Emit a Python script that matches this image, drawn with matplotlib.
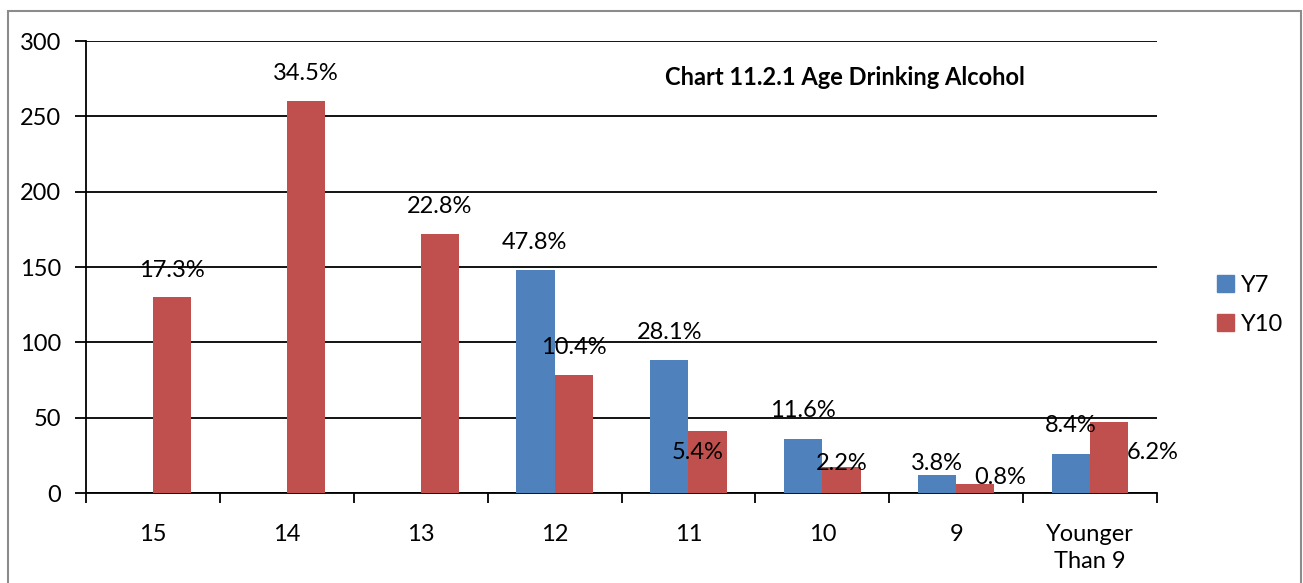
import numpy as np
import matplotlib as mpl

mpl.use('agg')

import matplotlib.pyplot as plt
from matplotlib.patches import Rectangle, Patch

plt.rcParams['font.family'] = ['Lato', 'DejaVu Sans']

# age first drank alcohol, counts per year group
ages = ['15', '14', '13', '12', '11', '10', '9', 'Younger\nThan 9']
y7 = [0, 0, 0, 148, 88, 36, 12, 26]
y10 = [130, 260, 172, 78, 41, 17, 6, 47]
y7_pct = [None, None, None, '47.8%', '28.1%', '11.6%', '3.8%', '8.4%']
y10_pct = ['17.3%', '34.5%', '22.8%', '10.4%', '5.4%', '2.2%', '0.8%', '6.2%']

# label nudges (pixels: dx, dy from bar top centre)
y7_nudge = [None, None, None, (-1, 28), (0, 28), (0, 28), (0, 11), (0, 28)]
y10_nudge = [(0, 27), (0, 28), (0, 27), (0, 28), (-10, -21), (0, 4), (25, 6), (44, -30)]

blue = '#4F81BD'
red = '#C0504D'
fs = 17

fig = plt.figure(figsize=(13.03, 5.83), dpi=100)
ax = fig.add_axes([86 / 1303, 90 / 583, 1071 / 1303, 452 / 583])

x = np.arange(len(ages))
w = 1 / 3.5
b7 = ax.bar(x - w / 2, y7, w, color=blue, zorder=3)
b10 = ax.bar(x + w / 2, y10, w, color=red, zorder=3)

ax.set_xlim(-0.5, len(ages) - 0.5)
ax.set_ylim(0, 300)
ax.set_yticks(range(0, 301, 50))
ax.yaxis.grid(True, color='black', lw=1.3, zorder=1)
ax.set_axisbelow(True)

ax.set_xticks(x)
ax.set_xticklabels(ages, fontsize=fs, linespacing=1.4)
ax.set_xticks(np.arange(len(ages) + 1) - 0.5, minor=True)
ax.tick_params(axis='x', which='major', length=0, pad=22)
ax.tick_params(axis='x', which='minor', length=7, width=1.3, direction='out')
ax.tick_params(axis='y', length=8, width=1.3, labelsize=fs, pad=10)

for s in ['top', 'right']:
    ax.spines[s].set_visible(False)
for s in ['left', 'bottom']:
    ax.spines[s].set_linewidth(1.3)

px = 72 / fig.dpi


def label(bars, texts, nudges):
    for bar, t, n in zip(bars, texts, nudges):
        if t is None:
            continue
        cx = bar.get_x() + bar.get_width() / 2
        ax.annotate(t, (cx, bar.get_height()), xytext=(n[0] * px, n[1] * px),
                    textcoords='offset points', ha='center', va='center',
                    fontsize=fs, zorder=5, annotation_clip=False)


label(b7, y7_pct, y7_nudge)
label(b10, y10_pct, y10_nudge)

ax.text(0.709, 0.92, 'Chart 11.2.1 Age Drinking Alcohol', transform=ax.transAxes,
        ha='center', va='center', fontsize=fs, fontweight='bold')

handles = [Patch(color=blue), Patch(color=red)]
fig.legend(handles, ['Y7', 'Y10'], loc='center left', bbox_to_anchor=(1196 / 1303, 1 - 305 / 583),
           frameon=False, fontsize=fs, handlelength=0.72, handleheight=0.72,
           handletextpad=0.3, labelspacing=0.75)

# outer chart border
fig.patches.append(Rectangle((8 / 1303, -0.05), 1293 / 1303, 1.05 - 11 / 583,
                             transform=fig.transFigure, fill=False,
                             edgecolor='#8c8c8c', lw=1.5))

plt.savefig('out.png', dpi=100)
plt.close()
